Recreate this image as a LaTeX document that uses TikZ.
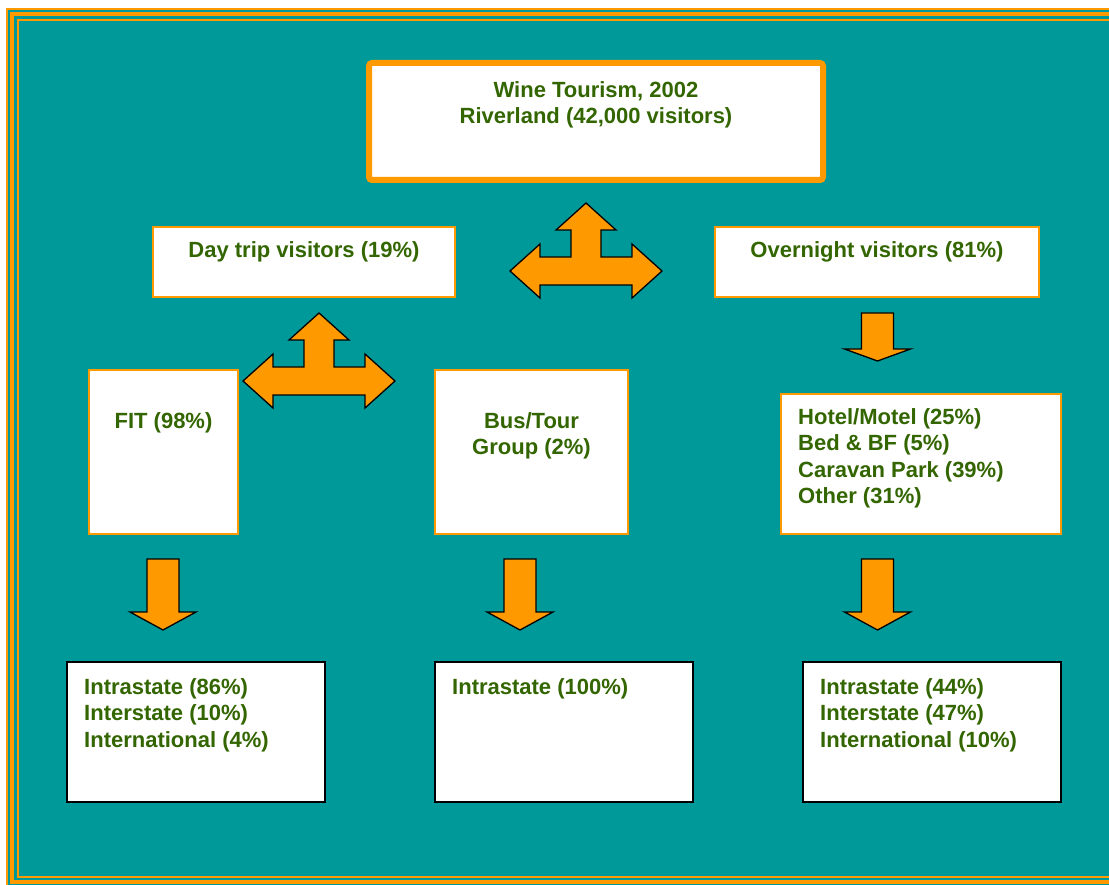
\documentclass[tikz,border=0pt]{standalone}
\usepackage{fontspec}
\setmainfont{Liberation Sans}
\usetikzlibrary{positioning}

\definecolor{teal}{RGB}{0,153,153}
\definecolor{tourorange}{RGB}{255,153,0}
\definecolor{textgreen}{RGB}{51,102,0}

% block arrow pointing down: centre x, top y, head base offset, tip offset
\newcommand{\downblock}[4]{%
  \draw[blockarrow, shift={(#1,-#2)}] (-16,0) -- (16,0) -- (16,-#3) -- (33,-#3)
    -- (0,-#4) -- (-33,-#3) -- (-16,-#3) -- cycle;}
% block arrow pointing up, left and right: top tip x, top tip y
\newcommand{\threeway}[2]{%
  \draw[blockarrow, shift={(#1,-#2)}] (0,0) -- (30,-27) -- (15,-27) -- (15,-54)
    -- (46,-54) -- (46,-41) -- (76,-68) -- (46,-95) -- (46,-82) -- (-46,-82)
    -- (-46,-95) -- (-76,-68) -- (-46,-41) -- (-46,-54) -- (-15,-54)
    -- (-15,-27) -- (-30,-27) -- cycle;}

\begin{document}
\begin{tikzpicture}[x=1pt, y=1pt]
    % Define styles
    \tikzstyle{mainbox} = [rectangle, rounded corners=3pt, draw=tourorange, line width=6pt, fill=white, inner sep=0, outer sep=0]
    \tikzstyle{catbox} = [rectangle, draw=tourorange, line width=2pt, fill=white, inner sep=0, outer sep=0]
    \tikzstyle{originbox} = [rectangle, draw=black, line width=2pt, fill=white, inner sep=0, outer sep=0]
    \tikzstyle{txt} = [inner sep=0, text=textgreen, font=\bfseries\fontsize{22}{26.6}\selectfont]
    \tikzstyle{blockarrow} = [fill=tourorange, draw=black, line width=1.3pt, line join=miter]

    \useasboundingbox (0,0) rectangle (1109,-885);
    \clip (0,0) rectangle (1109,-885);

    % Background and frame
    \fill[teal] (6,-8) rectangle (1130,-900);
    \draw[tourorange, line width=2pt] (7,-9) rectangle (1125,-895);
    \draw[tourorange, line width=4pt] (12,-14) rectangle (1120,-882);
    \draw[tourorange, line width=2pt] (18,-20) rectangle (1114,-877);

    % Top
    \node [mainbox, minimum width=454, minimum height=117] (wine) at (596,-121.5) {};
    \node [txt, align=center, anchor=north] (winetxt) at ([yshift=-18]wine.north) {Wine Tourism, 2002\\Riverland (42,000 visitors)};

    % Visitor types
    \node [catbox, minimum width=302, minimum height=70] (daytrip) at (304,-262) {};
    \node [txt, anchor=north] (daytriptxt) at ([yshift=-14]daytrip.north) {Day trip visitors (19\%)};
    \node [catbox, minimum width=324, minimum height=70] (overnight) at (877,-262) {};
    \node [txt, anchor=north] (overnighttxt) at ([yshift=-14]overnight.north) {Overnight visitors (81\%)};

    % Second level
    \node [catbox, minimum width=149, minimum height=164] (fit) at (163.5,-452) {};
    \node [txt, anchor=north] (fittxt) at ([yshift=-42]fit.north) {FIT (98\%)};
    \node [catbox, minimum width=193, minimum height=164] (bus) at (531.5,-452) {};
    \node [txt, align=center, anchor=north] (bustxt) at ([yshift=-42]bus.north) {Bus/Tour\\Group (2\%)};
    \node [catbox, minimum width=280, minimum height=140] (stay) at (921,-464) {};
    \node [txt, align=left, anchor=north west] (staytxt) at ([xshift=17, yshift=-14]stay.north west) {Hotel/Motel (25\%)\\Bed \& BF (5\%)\\Caravan Park (39\%)\\Other (31\%)};

    % Origins
    \node [originbox, minimum width=258, minimum height=140] (fitorig) at (196,-732) {};
    \node [txt, align=left, anchor=north west] (fitorigtxt) at ([xshift=17, yshift=-16]fitorig.north west) {Intrastate (86\%)\\Interstate (10\%)\\International (4\%)};
    \node [originbox, minimum width=258, minimum height=140] (busorig) at (564,-732) {};
    \node [txt, align=left, anchor=north west] (busorigtxt) at ([xshift=17, yshift=-16]busorig.north west) {Intrastate (100\%)};
    \node [originbox, minimum width=258, minimum height=140] (stayorig) at (932,-732) {};
    \node [txt, align=left, anchor=north west] (stayorigtxt) at ([xshift=17, yshift=-16]stayorig.north west) {Intrastate (44\%)\\Interstate (47\%)\\International (10\%)};

    % Arrows
    \threeway{586}{203}
    \threeway{319}{313}
    \downblock{877.5}{313}{36}{48}
    \downblock{163}{559}{53}{71}
    \downblock{520}{559}{53}{71}
    \downblock{877.5}{559}{53}{71}
\end{tikzpicture}
\end{document}
